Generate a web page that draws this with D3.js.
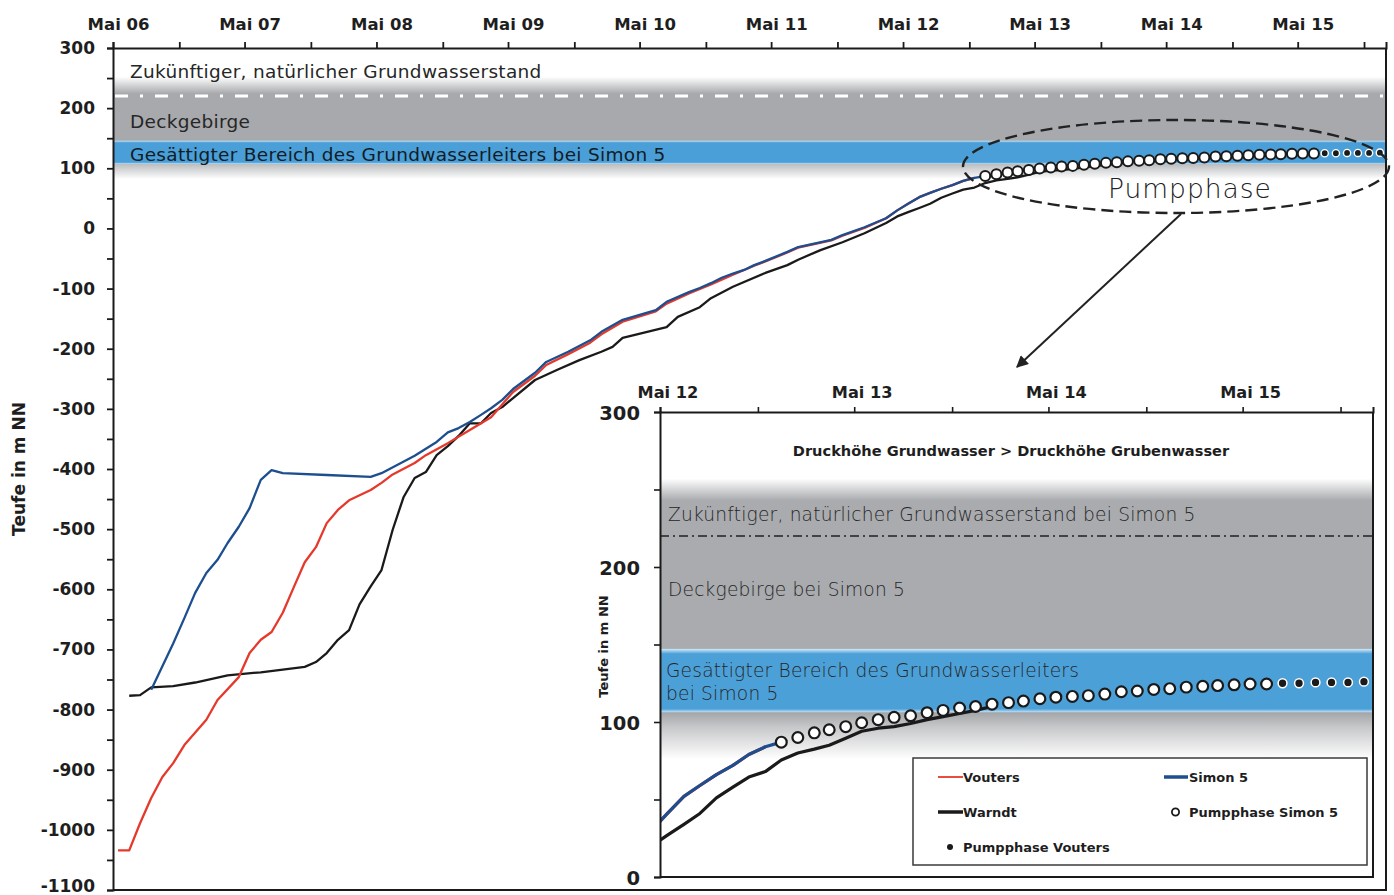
<!DOCTYPE html>
<html>
<head>
<meta charset="utf-8">
<script src="https://cdn.jsdelivr.net/npm/d3@7"></script>
<style>
  body { margin: 0; background: #ffffff; }
  svg { display: block; }
</style>
</head>
<body>
<svg id="chart" width="1394" height="895"></svg>
<script>
// ---------------------------------------------------------------
// Data: water levels (Teufe in m NN), monthly readings "YYYY-MM"
// ---------------------------------------------------------------
const xTickLabels = ["Mai 06", "Mai 07", "Mai 08", "Mai 09", "Mai 10",
                     "Mai 11", "Mai 12", "Mai 13", "Mai 14", "Mai 15"];
const insetTickLabels = ["Mai 12", "Mai 13", "Mai 14", "Mai 15"];
const yTickValues = [300, 200, 100, 0, -100, -200, -300, -400, -500,
                     -600, -700, -800, -900, -1000, -1100];
const insetYTickValues = [300, 200, 100, 0];

const vouters = [
  ["2006-05", -1034], ["2006-06", -1034], ["2006-07", -989], ["2006-08", -947],
  ["2006-09", -912], ["2006-10", -889], ["2006-11", -859], ["2007-01", -817],
  ["2007-02", -784], ["2007-04", -746], ["2007-05", -706], ["2007-06", -684],
  ["2007-07", -671], ["2007-08", -639], ["2007-09", -596], ["2007-10", -555],
  ["2007-11", -530], ["2007-12", -490], ["2008-01", -468], ["2008-02", -452],
  ["2008-04", -435], ["2008-05", -423], ["2008-06", -409], ["2008-08", -390],
  ["2008-09", -377], ["2008-11", -357], ["2009-01", -335], ["2009-03", -314],
  ["2009-05", -272], ["2009-07", -245], ["2009-08", -227], ["2009-10", -209],
  ["2009-12", -190], ["2010-01", -176], ["2010-03", -155], ["2010-06", -138],
  ["2010-07", -125], ["2010-09", -108], ["2010-11", -93], ["2011-01", -77],
  ["2011-03", -62], ["2011-04", -55], ["2011-06", -40], ["2011-07", -32],
  ["2011-10", -20], ["2011-11", -12], ["2012-01", 1], ["2012-03", 17],
  ["2012-04", 30], ["2012-05", 41], ["2012-06", 52], ["2012-07", 59],
  ["2012-08", 66], ["2012-09", 72], ["2012-10", 79], ["2012-11", 84]
];

const simon5 = [
  ["2006-08", -767], ["2006-10", -690], ["2006-11", -648], ["2006-12", -606],
  ["2007-01", -573], ["2007-02", -551], ["2007-03", -523], ["2007-04", -496],
  ["2007-05", -465], ["2007-06", -418], ["2007-07", -402], ["2007-08", -407],
  ["2007-12", -410], ["2008-04", -413], ["2008-05", -407], ["2008-08", -378],
  ["2008-10", -355], ["2008-11", -339], ["2008-12", -332], ["2009-01", -322],
  ["2009-02", -310], ["2009-03", -299], ["2009-04", -285], ["2009-05", -267],
  ["2009-07", -240], ["2009-08", -222], ["2009-10", -205], ["2009-12", -186],
  ["2010-01", -172], ["2010-03", -152], ["2010-06", -136], ["2010-07", -122],
  ["2010-09", -106], ["2010-10", -99], ["2010-11", -91], ["2010-12", -82],
  ["2011-01", -75], ["2011-02", -69], ["2011-03", -61], ["2011-04", -54],
  ["2011-06", -39], ["2011-07", -31], ["2011-10", -19], ["2011-11", -11],
  ["2012-01", 2], ["2012-03", 17], ["2012-04", 30], ["2012-05", 41],
  ["2012-06", 52], ["2012-07", 59], ["2012-08", 66], ["2012-09", 72],
  ["2012-10", 79], ["2012-11", 84], ["2012-12", 87]
];

const warndt = [
  ["2006-06", -777], ["2006-07", -776], ["2006-08", -763], ["2006-10", -761],
  ["2006-12", -755], ["2007-01", -751], ["2007-03", -743], ["2007-06", -738],
  ["2007-10", -729], ["2007-11", -721], ["2007-12", -706], ["2008-01", -684],
  ["2008-02", -668], ["2008-03", -625], ["2008-04", -595], ["2008-05", -568],
  ["2008-06", -501], ["2008-07", -447], ["2008-08", -415], ["2008-09", -405],
  ["2008-10", -377], ["2008-11", -362], ["2008-12", -345], ["2009-01", -324],
  ["2009-02", -324], ["2009-03", -307], ["2009-04", -297], ["2009-05", -282],
  ["2009-07", -252], ["2009-09", -235], ["2009-11", -219], ["2010-01", -205],
  ["2010-02", -197], ["2010-03", -182], ["2010-07", -164], ["2010-08", -147],
  ["2010-10", -131], ["2010-11", -116], ["2011-01", -97], ["2011-04", -74],
  ["2011-06", -61], ["2011-07", -52], ["2011-09", -36], ["2011-11", -23],
  ["2012-01", -8], ["2012-03", 9], ["2012-04", 20], ["2012-05", 27],
  ["2012-06", 34], ["2012-07", 41], ["2012-08", 51], ["2012-09", 58],
  ["2012-10", 64.5], ["2012-11", 68], ["2012-12", 75.5], ["2013-01", 80],
  ["2013-02", 82.5], ["2013-03", 85], ["2013-04", 89.5], ["2013-05", 94],
  ["2013-06", 96], ["2013-07", 97], ["2013-08", 99], ["2013-09", 101.5],
  ["2013-10", 103.5], ["2013-11", 105.5], ["2013-12", 107.5], ["2014-01", 110]
];

const pumpSimon5 = [
  ["2012-12", 87], ["2013-01", 90], ["2013-02", 93], ["2013-03", 95],
  ["2013-04", 97], ["2013-05", 99.5], ["2013-06", 101.5], ["2013-07", 103],
  ["2013-08", 104], ["2013-09", 106], ["2013-10", 107.5], ["2013-11", 109],
  ["2013-12", 110], ["2014-01", 111.5], ["2014-02", 112.5], ["2014-03", 113.5],
  ["2014-04", 115], ["2014-05", 116], ["2014-06", 116.5], ["2014-07", 117],
  ["2014-08", 118], ["2014-09", 119.5], ["2014-10", 120], ["2014-11", 121],
  ["2014-12", 121.5], ["2015-01", 122.5], ["2015-02", 123], ["2015-03", 123.5],
  ["2015-04", 124], ["2015-05", 124.5], ["2015-06", 124.5]
];

const pumpVouters = [
  ["2015-07", 125], ["2015-08", 125], ["2015-09", 125.5],
  ["2015-10", 125.5], ["2015-11", 125.5], ["2015-12", 126]
];

// Hydrogeological levels (m NN)
const naturalLevel = 220;        // future natural groundwater level
const aquiferTop = 146;          // saturated zone of the aquifer at Simon 5
const aquiferBottom = 106;

const legendItems = ["Vouters", "Simon 5", "Warndt", "Pumpphase Simon 5", "Pumpphase Vouters"];

// ---------------------------------------------------------------
const FONT = "'DejaVu Sans', 'Noto Sans', sans-serif";
const RED = "#e5392c", BLUE = "#1d4e8f", BLACK = "#1a1a1a";

const parseMonth = d3.timeParse("%Y-%m");
const mid = s => d3.timeDay.offset(parseMonth(s), 14);   // readings plotted mid-month

const svg = d3.select("#chart");
const defs = svg.append("defs");

// vertical gradient whose stops are given in data units of a y-scale
function bandGradient(id, yScale, stops) {
  const y0 = yScale(stops[0][0]), y1 = yScale(stops[stops.length - 1][0]);
  const g = defs.append("linearGradient").attr("id", id)
    .attr("gradientUnits", "userSpaceOnUse")
    .attr("x1", 0).attr("x2", 0).attr("y1", y0).attr("y2", y1);
  stops.forEach(([v, c]) => g.append("stop")
    .attr("offset", (yScale(v) - y0) / (y1 - y0)).attr("stop-color", c));
  return [y0, y1];
}

// ================= main chart =================
const x = d3.scaleTime().domain([new Date(2006, 4, 1), new Date(2016, 0, 1)]).range([113, 1386]);
const y = d3.scaleLinear().domain([-1100, 300]).range([890, 48]);

const main = svg.append("g");

// layered background: cover rock (grey) and saturated aquifer (blue)
const [mb0, mb1] = bandGradient("mainBand", y, [
  [252, "#ffffff"], [224, "#a7a9ac"], [aquiferTop + 0.5, "#a7a9ac"],
  [aquiferTop - 0.5, "#c2e1f5"], [aquiferTop - 3.5, "#4a9fd8"],
  [aquiferBottom + 4, "#4a9fd8"], [aquiferBottom + 1.5, "#b6dbf2"],
  [aquiferBottom + 0.5, "#bcbec0"], [82, "#ffffff"]
]);
main.append("rect").attr("x", x.range()[0]).attr("width", x.range()[1] - x.range()[0])
  .attr("y", mb0).attr("height", mb1 - mb0).attr("fill", "url(#mainBand)");

main.append("line")
  .attr("x1", x.range()[0] + 2).attr("x2", x.range()[1] - 2)
  .attr("y1", y(naturalLevel)).attr("y2", y(naturalLevel))
  .attr("stroke", "#ffffff").attr("stroke-width", 3)
  .attr("stroke-dasharray", "13,12,3,12");

const bandText = [
  ["Zukünftiger, natürlicher Grundwasserstand", 78, "#262626"],
  ["Deckgebirge", 128, "#262626"],
  ["Gesättigter Bereich des Grundwasserleiters bei Simon 5", 161, "#111c26"]
];
main.selectAll("text.band").data(bandText).join("text")
  .attr("x", 130).attr("y", d => d[1])
  .attr("font-family", FONT).attr("font-size", 18.5).attr("letter-spacing", 0.3)
  .attr("fill", d => d[2]).text(d => d[0]);

// series lines
const lineMain = d3.line().x(d => x(mid(d[0]))).y(d => y(d[1]));
[[warndt, BLACK], [vouters, RED], [simon5, BLUE]].forEach(([s, c]) => {
  main.append("path").datum(s).attr("d", lineMain)
    .attr("fill", "none").attr("stroke", c).attr("stroke-width", 2.3)
    .attr("stroke-linejoin", "round");
});

main.selectAll("circle.ps").data(pumpSimon5).join("circle")
  .attr("cx", d => x(mid(d[0]))).attr("cy", d => y(d[1])).attr("r", 5)
  .attr("fill", "#ffffff").attr("stroke", BLACK).attr("stroke-width", 2);
main.selectAll("circle.pv").data(pumpVouters).join("circle")
  .attr("cx", d => x(mid(d[0]))).attr("cy", d => y(d[1])).attr("r", 3.6)
  .attr("fill", BLACK).attr("stroke", "#ffffff").attr("stroke-width", 1.4);

// axes
const mays = d3.range(2006, 2016).map(yr => new Date(yr, 4, 1));
const novs = d3.range(2006, 2016).map(yr => new Date(yr, 10, 1));
const mainLabelShift = x(new Date(2006, 4, 15)) - x(new Date(2006, 4, 1));

const topAxis = main.append("g").attr("transform", `translate(0,${y(300)})`)
  .call(d3.axisTop(x).tickValues(mays.concat(novs)).tickSizeOuter(0).tickSize(6).tickPadding(12)
    .tickFormat(d => { const i = mays.findIndex(m => +m === +d); return i >= 0 ? xTickLabels[i] : ""; }));
topAxis.selectAll("text").attr("x", mainLabelShift)
  .attr("font-family", FONT).attr("font-size", 16.5).attr("font-weight", "bold").attr("fill", "#1e1e1e");

const leftAxis = main.append("g").attr("transform", `translate(${x.range()[0]},0)`)
  .call(d3.axisLeft(y).tickValues(d3.range(-1100, 301, 50)).tickSizeOuter(0).tickSize(6).tickPadding(12)
    .tickFormat(d => yTickValues.includes(d) ? String(d) : ""));
leftAxis.selectAll("text")
  .attr("font-family", FONT).attr("font-size", 17).attr("font-weight", "bold").attr("fill", "#1e1e1e");
// keep the lowest label inside the drawing area
leftAxis.selectAll(".tick").filter(d => d === -1100).select("text").attr("dy", "0.08em");

[topAxis, leftAxis].forEach(a => {
  a.select(".domain").attr("stroke", BLACK).attr("stroke-width", 2);
  a.selectAll(".tick line").attr("stroke", BLACK).attr("stroke-width", 1.8);
});

// frame right and bottom
main.append("path")
  .attr("d", `M${x.range()[1]},${y(300)}V${y(-1100)}H${x.range()[0]}`)
  .attr("fill", "none").attr("stroke", BLACK).attr("stroke-width", 2);

main.append("text")
  .attr("transform", `translate(25,${(y(300) + y(-1100)) / 2}) rotate(-90)`)
  .attr("text-anchor", "middle").attr("font-family", FONT).attr("font-size", 17)
  .attr("font-weight", "bold").attr("fill", "#1e1e1e").text("Teufe in m NN");

// pump phase highlight
main.append("ellipse").attr("cx", 1176).attr("cy", 166.5).attr("rx", 213).attr("ry", 46.5)
  .attr("fill", "none").attr("stroke", "#222").attr("stroke-width", 2.4)
  .attr("stroke-dasharray", "12,6");
main.append("text").attr("x", 1108).attr("y", 198)
  .attr("font-family", FONT).attr("font-size", 26.5).attr("font-weight", 300)
  .attr("letter-spacing", 1).attr("fill", "#222").text("Pumpphase");

defs.append("marker").attr("id", "arrowHead").attr("viewBox", "0 0 10 10")
  .attr("refX", 9).attr("refY", 5).attr("markerWidth", 7).attr("markerHeight", 6)
  .attr("markerUnits", "strokeWidth").attr("orient", "auto")
  .append("path").attr("d", "M0,0L10,5L0,10Z").attr("fill", "#222");
main.append("line").attr("x1", 1181).attr("y1", 214).attr("x2", 1017).attr("y2", 367)
  .attr("stroke", "#222").attr("stroke-width", 2).attr("marker-end", "url(#arrowHead)");

// ================= inset (zoom on 2012-2015) =================
const xi = d3.scaleTime().domain([new Date(2012, 4, 1), new Date(2016, 0, 1)]).range([660, 1373]);
const yi = d3.scaleLinear().domain([0, 300]).range([877, 412]);
const inset = svg.append("g");

defs.append("clipPath").attr("id", "insetClip").append("rect")
  .attr("x", xi.range()[0]).attr("y", yi(300))
  .attr("width", xi.range()[1] - xi.range()[0]).attr("height", yi(0) - yi(300));

const [ib0, ib1] = bandGradient("insetBand", yi, [
  [257, "#ffffff"], [243, "#a9abae"], [aquiferTop + 1.5, "#a9abae"],
  [aquiferTop + 0.8, "#c4e2f5"], [aquiferTop - 2, "#4ca0d8"],
  [aquiferBottom + 2.5, "#4ca0d8"], [aquiferBottom + 0.5, "#b9dcf3"],
  [aquiferBottom, "#a3a5a8"], [97, "#c6c7c9"], [76, "#ffffff"]
]);
inset.append("rect").attr("x", xi.range()[0]).attr("width", xi.range()[1] - xi.range()[0])
  .attr("y", ib0).attr("height", ib1 - ib0).attr("fill", "url(#insetBand)");

inset.append("line")
  .attr("x1", xi.range()[0]).attr("x2", xi.range()[1])
  .attr("y1", yi(naturalLevel)).attr("y2", yi(naturalLevel))
  .attr("stroke", "#222").attr("stroke-width", 1.3)
  .attr("stroke-dasharray", "9,4,2,4");

inset.append("text").attr("x", 1011).attr("y", 456).attr("text-anchor", "middle")
  .attr("font-family", FONT).attr("font-size", 14.6).attr("font-weight", "bold")
  .attr("fill", "#1e1e1e").text("Druckhöhe Grundwasser > Druckhöhe Grubenwasser");

const insetBandText = [
  ["Zukünftiger, natürlicher Grundwasserstand bei Simon 5", 668, 521],
  ["Deckgebirge bei Simon 5", 668, 596],
  ["Gesättigter Bereich des Grundwasserleiters", 666, 677],
  ["bei Simon 5", 666, 700]
];
inset.selectAll("text.iband").data(insetBandText).join("text")
  .attr("x", d => d[1]).attr("y", d => d[2])
  .attr("font-family", FONT).attr("font-size", 18.6).attr("font-weight", 300)
  .attr("letter-spacing", 0.2).attr("fill", "#262626").text(d => d[0]);

const plot = inset.append("g").attr("clip-path", "url(#insetClip)");
const lineInset = d3.line().x(d => xi(mid(d[0]))).y(d => yi(d[1]));
[[warndt, BLACK], [vouters, RED], [simon5, BLUE]].forEach(([s, c]) => {
  plot.append("path").datum(s).attr("d", lineInset)
    .attr("fill", "none").attr("stroke", c).attr("stroke-width", 3.2)
    .attr("stroke-linejoin", "round");
});
plot.selectAll("circle.ps").data(pumpSimon5).join("circle")
  .attr("cx", d => xi(mid(d[0]))).attr("cy", d => yi(d[1])).attr("r", 5.4)
  .attr("fill", "#ffffff").attr("stroke", BLACK).attr("stroke-width", 2.2);
plot.selectAll("circle.pv").data(pumpVouters).join("circle")
  .attr("cx", d => xi(mid(d[0]))).attr("cy", d => yi(d[1])).attr("r", 4.4)
  .attr("fill", BLACK).attr("stroke", "#ffffff").attr("stroke-width", 1.5);

// legend
const lg = inset.append("g");
lg.append("rect").attr("x", 913).attr("y", 758).attr("width", 454).attr("height", 107)
  .attr("fill", "#ffffff").attr("stroke", "#3a3a3a").attr("stroke-width", 1.5);
const legendPos = [[938, 777], [1164, 777], [938, 812], [1164, 812], [938, 847]];
legendItems.forEach((name, i) => {
  const [lx, ly] = legendPos[i];
  if (i === 0) lg.append("line").attr("x1", lx).attr("x2", lx + 25).attr("y1", ly).attr("y2", ly).attr("stroke", RED).attr("stroke-width", 1.8);
  if (i === 1) lg.append("line").attr("x1", lx).attr("x2", lx + 24).attr("y1", ly).attr("y2", ly).attr("stroke", BLUE).attr("stroke-width", 3.5);
  if (i === 2) lg.append("line").attr("x1", lx).attr("x2", lx + 25).attr("y1", ly).attr("y2", ly).attr("stroke", BLACK).attr("stroke-width", 3.5);
  if (i === 3) lg.append("circle").attr("cx", lx + 11.5).attr("cy", ly).attr("r", 3.6).attr("fill", "#fff").attr("stroke", BLACK).attr("stroke-width", 1.8);
  if (i === 4) lg.append("circle").attr("cx", lx + 12).attr("cy", ly).attr("r", 3).attr("fill", BLACK);
  lg.append("text").attr("x", lx + 25).attr("y", ly + 5)
    .attr("font-family", FONT).attr("font-size", 13).attr("font-weight", "bold")
    .attr("fill", "#1e1e1e").text(name);
});

// inset axes
const imays = d3.range(2012, 2016).map(yr => new Date(yr, 4, 1));
const inovs = d3.range(2012, 2016).map(yr => new Date(yr, 10, 1));
const insetLabelShift = xi(new Date(2012, 4, 15)) - xi(new Date(2012, 4, 1));

const iTop = inset.append("g").attr("transform", `translate(0,${yi(300)})`)
  .call(d3.axisTop(xi).tickValues(imays.concat(inovs)).tickSizeOuter(0).tickSize(5).tickPadding(9)
    .tickFormat(d => { const i = imays.findIndex(m => +m === +d); return i >= 0 ? insetTickLabels[i] : ""; }));
iTop.selectAll("text").attr("x", insetLabelShift)
  .attr("font-family", FONT).attr("font-size", 16.2).attr("font-weight", "bold").attr("fill", "#1e1e1e");

const iLeft = inset.append("g").attr("transform", `translate(${xi.range()[0]},0)`)
  .call(d3.axisLeft(yi).tickValues(d3.range(0, 301, 50)).tickSizeOuter(0).tickSize(6).tickPadding(14)
    .tickFormat(d => insetYTickValues.includes(d) ? String(d) : ""));
iLeft.selectAll("text")
  .attr("font-family", FONT).attr("font-size", 19.5).attr("font-weight", "bold").attr("fill", "#1e1e1e")
  .attr("dy", "0.36em");

[iTop, iLeft].forEach(a => {
  a.select(".domain").attr("stroke", BLACK).attr("stroke-width", 2);
  a.selectAll(".tick line").attr("stroke", BLACK).attr("stroke-width", 1.6);
});
inset.append("path")
  .attr("d", `M${xi.range()[1]},${yi(300)}V${yi(0)}H${xi.range()[0]}`)
  .attr("fill", "none").attr("stroke", BLACK).attr("stroke-width", 2);

inset.append("text")
  .attr("transform", `translate(608,${(yi(300) + yi(0)) / 2 + 2}) rotate(-90)`)
  .attr("text-anchor", "middle").attr("font-family", FONT).attr("font-size", 13)
  .attr("font-weight", "bold").attr("fill", "#1e1e1e").text("Teufe in m NN");
</script>
</body>
</html>
